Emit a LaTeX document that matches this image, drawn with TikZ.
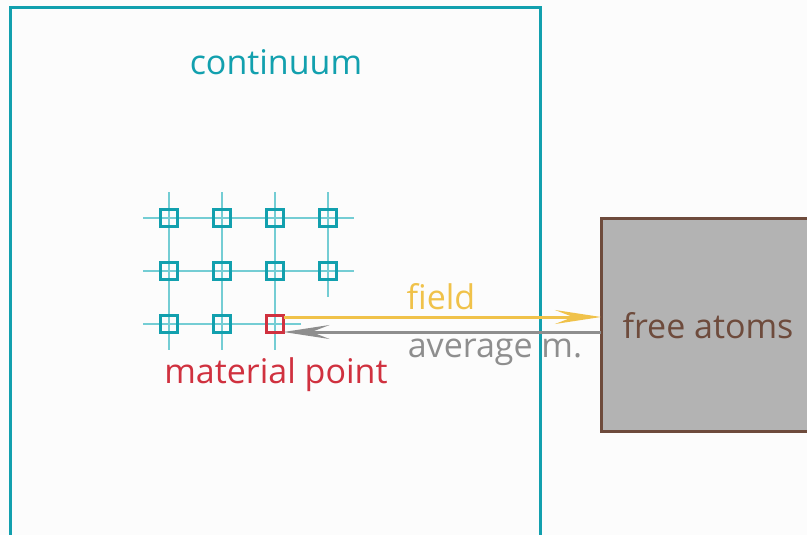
\documentclass[tikz,border=0pt]{standalone}
\usepackage{fontspec}
\setmainfont{Open Sans}
\usetikzlibrary{arrows.meta}
\definecolor{teal1}{HTML}{12A0AE}
\definecolor{teallight}{HTML}{74CDD4}
\definecolor{redpt}{HTML}{D0313F}
\definecolor{yel}{HTML}{F0C24A}
\definecolor{gry}{HTML}{8E8E8E}
\definecolor{brn}{HTML}{6E4B3C}
\definecolor{boxfill}{HTML}{B3B3B3}
\tikzset{
  gridline/.style={teallight, line width=1.8pt},
  cell/.style={draw=teal1, line width=3.3pt, minimum size=17pt, inner sep=0pt, outer sep=0pt},
  lbl/.style={font=\fontsize{34}{38}\selectfont, anchor=base, inner sep=0pt},
  arr/.style={line width=3pt, -{Stealth[length=46pt, width=14pt, inset=18pt]}},
}
\begin{document}
\begin{tikzpicture}[x=1pt,y=-1pt]
\useasboundingbox (0,0) rectangle (807,535);
\fill[white!99!black] (0,0) rectangle (807,535);
% continuum box (open at bottom)
\draw[teal1, line width=3pt] (10,545) -- (10,8) -- (540,8) -- (540,545);
\node[lbl, text=teal1] (cont) at (276,75) {continuum};
% grid lines
\draw[gridline] (143,218) -- (354,218);
\draw[gridline] (143,271) -- (354,271);
\draw[gridline] (143,324) -- (301,324);
\draw[gridline] (169,192) -- (169,350);
\draw[gridline] (222,192) -- (222,350);
\draw[gridline] (275,192) -- (275,350);
\draw[gridline] (328,192) -- (328,297);
% cells
\foreach \x/\i in {169/1,222/2,275/3,328/4}{
  \node[cell] (c1\i) at (\x,218) {};
  \node[cell] (c2\i) at (\x,271) {};
}
\node[cell] (c31) at (169,324) {};
\node[cell] (c32) at (222,324) {};
\node[cell, draw=redpt] (mp) at (275,324) {};
% free atoms box
\path[draw=brn, fill=boxfill, line width=3pt] (820,218) -- (601,218) -- (601,431) -- (820,431);
\node[lbl, text=brn] (fat) at (708,338) {free atoms};
% arrows
\coordinate (fa1) at (601,317);
\coordinate (fa2) at (601,332);
\draw[arr, yel] (mp.east |- fa1) -- (fa1);
\draw[arr, gry] (fa2) -- (mp.east |- fa2);
\node[lbl, text=yel] (fld) at (441,309) {field};
\node[lbl, text=gry] (avg) at (495,357) {average m.};
\node[lbl, text=redpt] (mpl) at (276,383) {material point};
\end{tikzpicture}
\end{document}
